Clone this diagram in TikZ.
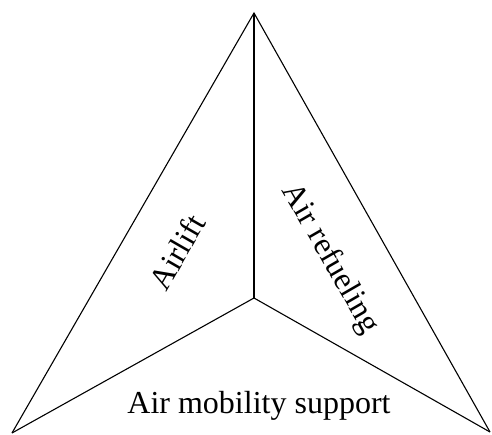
\documentclass[tikz,border=0pt]{standalone}
\usepackage{fontspec}
\setmainfont{Liberation Serif}
\begin{document}
\begin{tikzpicture}[x=1pt,y=-1pt,
  edge/.style={draw=black,line width=1.1pt,line join=miter},
  lbl/.style={inner sep=0pt,font=\fontsize{32}{35}\selectfont}]
\useasboundingbox (0,0) rectangle (492,435);
% corner points of the three-pointed star
\coordinate (apex) at (254,13);
\coordinate (hub) at (254,298);
\coordinate (lefttip) at (12,433);
\coordinate (righttip) at (490,432);
% outline
\draw[edge] (lefttip) -- (apex) -- (righttip);
% inner dividers
\draw[edge] (apex) -- (hub);
\draw[edge] (lefttip) -- (hub) -- (righttip);
% labels
\node[lbl,rotate=60] (airlift) at (177,252) {Airlift};
\node[lbl,rotate=-60] (refuel) at (330,259) {Air refueling};
\node[lbl,anchor=base] (support) at (259,413) {Air mobility support};
\end{tikzpicture}
\end{document}
